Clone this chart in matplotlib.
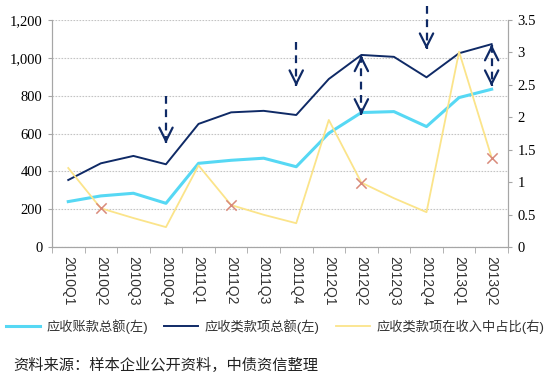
import matplotlib
matplotlib.use("Agg")
import matplotlib.pyplot as plt

plt.rcParams["font.family"] = ["Liberation Sans", "Noto Sans CJK SC", "DejaVu Sans"]

quarters = ["2010Q1", "2010Q2", "2010Q3", "2010Q4",
            "2011Q1", "2011Q2", "2011Q3", "2011Q4",
            "2012Q1", "2012Q2", "2012Q3", "2012Q4",
            "2013Q1", "2013Q2"]
receivables = [241, 271, 285, 232, 443, 459, 470, 425, 602, 711, 716, 637, 790, 834]
receivables_all = [355, 443, 482, 438, 651, 712, 720, 698, 888, 1015, 1005, 897, 1024, 1072]
ratio = [1.22, 0.60, 0.45, 0.31, 1.26, 0.65, 0.50, 0.37, 1.96, 0.995, 0.755, 0.54, 3.01, 1.38]
# quarters marked with a cross on the ratio line
cross_idx = [1, 5, 9, 13]
cross_vals = [ratio[i] for i in cross_idx]
# dashed arrows: (quarter index, start value, end value, double-headed)
arrows = [(3, 800, 548, False), (7, 1084, 850, False), (9, 1013, 698, True),
          (11, 1275, 1045, False), (13, 1070, 850, True)]

LIGHT = "#56d8f4"
NAVY = "#0f2a66"
YELLOW = "#fbe48a"
GRAY = "#a6a6a6"

fig = plt.figure(figsize=(5.5, 3.9), dpi=100)
ax = fig.add_axes([0.0945, 0.366, 0.829, 0.583])
ax2 = ax.twinx()

x = list(range(len(quarters)))
l1, = ax.plot(x, receivables, color=LIGHT, lw=2.2, label="应收账款总额(左)")
l2, = ax.plot(x, receivables_all, color=NAVY, lw=1.4, label="应收类款项总额(左)")
l3, = ax2.plot(x, ratio, color=YELLOW, lw=1.3, label="应收类款项在收入中占比(右)")
ax2.scatter(cross_idx, cross_vals, marker="x", s=55, color="#d98a7a", linewidths=1.1, zorder=5)


def head(xp, tip, back):
    # solid open arrowhead pointing from `back` to `tip`
    ax2.annotate("", xy=(xp, tip), xytext=(xp, back), xycoords=ax.transData,
                 textcoords=ax.transData, annotation_clip=False,
                 arrowprops=dict(arrowstyle="->,head_width=0.3,head_length=0.6",
                                 color=NAVY, lw=1.6, mutation_scale=16,
                                 shrinkA=0, shrinkB=0))


for i, y0, y1, both in arrows:
    ax2.plot([i, i], [y0, y1], transform=ax.transData, color=NAVY, lw=1.6,
             linestyle=(0, (3.5, 2.5)), clip_on=False, zorder=6)
    step = 20 if y1 < y0 else -20
    head(i, y1, y1 + step)
    if both:
        head(i, y0, y0 - step)

ax.set_xlim(-0.5, len(quarters) - 0.5)
ax.set_ylim(0, 1200)
ax2.set_ylim(0, 3.5)
ax.set_yticks(range(0, 1201, 200))
ax.set_yticklabels([f"{v:,}" for v in range(0, 1201, 200)], family="Liberation Serif", fontsize=10.5)
ax2.set_yticks([0, 0.5, 1, 1.5, 2, 2.5, 3, 3.5])
ax2.set_yticklabels(["0", "0.5", "1", "1.5", "2", "2.5", "3", "3.5"],
                    family="Liberation Serif", fontsize=10.5)

ax.set_xticks(x)
ax.set_xticklabels(quarters, rotation=-90, fontsize=10, color="#333333")
ax.set_xticks([i - 0.5 for i in range(len(quarters) + 1)], minor=True)
ax.tick_params(axis="x", which="major", length=0, pad=6)
ax.tick_params(axis="x", which="minor", length=4, color=GRAY, direction="out")
ax.tick_params(axis="y", length=3, color=GRAY, pad=4)
ax2.tick_params(axis="y", length=3, color=GRAY, pad=4)

ax.grid(axis="y", color="#c4c4c4", linestyle=(0, (1.5, 1.2)), lw=0.8)
for a in (ax, ax2):
    a.spines["top"].set_visible(False)
    for s in ("left", "right", "bottom"):
        a.spines[s].set_color(GRAY)
ax.set_axisbelow(True)

fig.legend(handles=[l1, l2, l3], loc="center", bbox_to_anchor=(0.5, 0.163), ncol=3,
           frameon=False, fontsize=9.5, handlelength=2.6, columnspacing=1.2,
           handletextpad=0.5, labelcolor="#333333")

fig.text(0.024, 0.052, "资料来源：样本企业公开资料，中债资信整理", fontsize=11,
         family=["Noto Sans CJK SC", "DejaVu Sans"], color="#222222")

fig.savefig("out.png", dpi=100)
